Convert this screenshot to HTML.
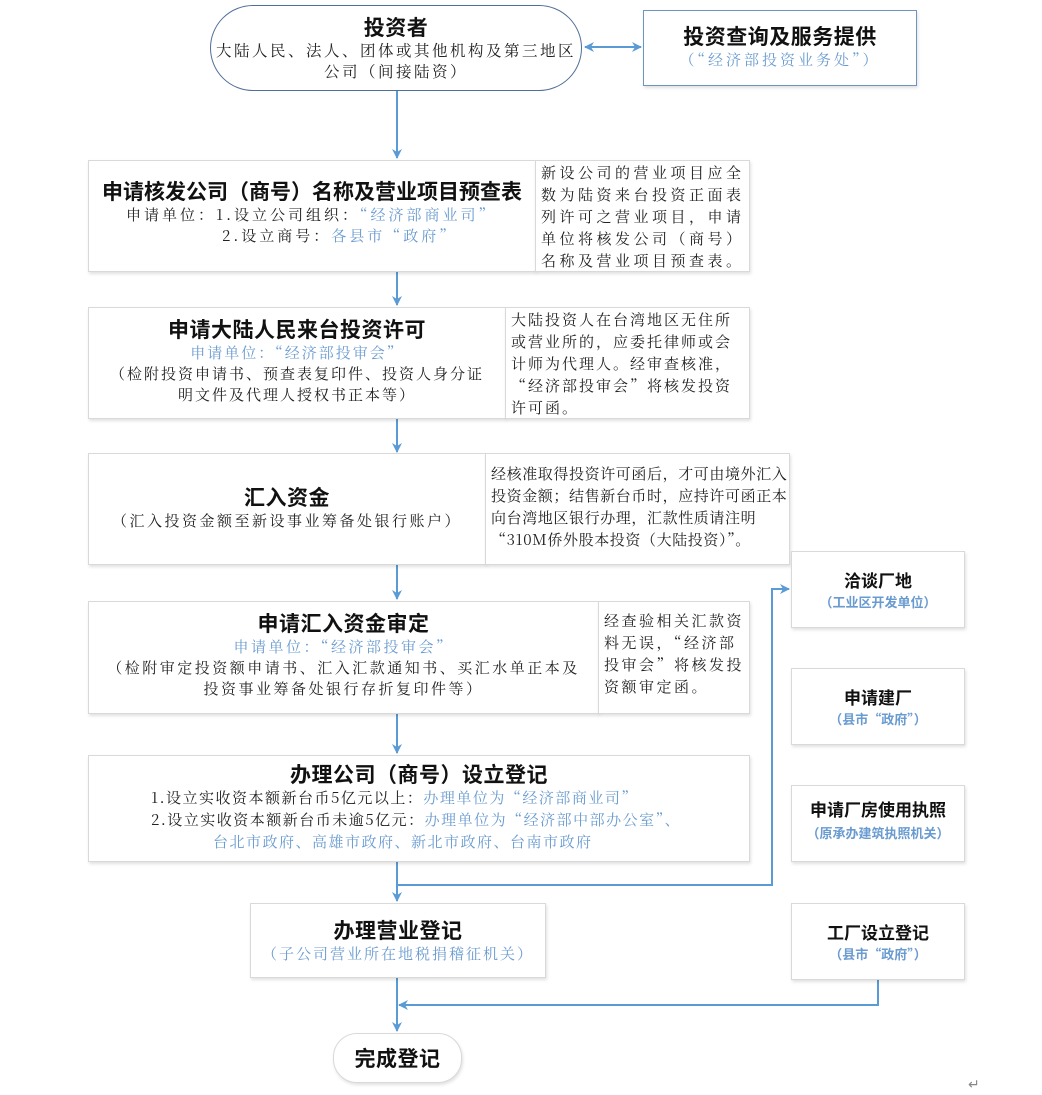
<!DOCTYPE html>
<html><head><meta charset="utf-8"><style>
body{margin:0;background:#fff;width:1042px;height:1095px;position:relative;overflow:hidden;font-family:"Noto Serif CJK SC","Liberation Serif",serif;color:#222}
.b{position:absolute;box-sizing:border-box;border:1px solid #d9d9d9;box-shadow:1px 2px 3px rgba(0,0,0,0.12);background:#fff;text-align:center}
.t{font-family:"Noto Sans CJK SC","Liberation Sans",sans-serif;font-weight:bold;font-size:21px;line-height:26px;color:#111;letter-spacing:0.5px;white-space:nowrap}
.s{font-size:15px;line-height:21px;white-space:nowrap;letter-spacing:3px}
.bl{color:#6a9bd0}
.n{position:absolute;box-sizing:border-box;border:1px solid #d9d9d9;box-shadow:1px 2px 3px rgba(0,0,0,0.12);background:#fff;font-size:15px;line-height:22px;letter-spacing:3.5px;padding:1px 5px;white-space:nowrap}
.r .t{font-size:17px;line-height:22px;letter-spacing:0}
.r .s{font-family:"Noto Sans CJK SC","Liberation Sans",sans-serif;font-weight:bold;font-size:13px;color:#6a9bd0;letter-spacing:0}
svg{position:absolute;left:0;top:0}
</style></head><body>
<svg width="1042" height="1095">
<defs><marker id="a" markerWidth="10" markerHeight="10" refX="9" refY="5" orient="auto" markerUnits="userSpaceOnUse"><path d="M0,0 L10,5 L0,10 L3,5z" fill="#5b9bd5"/></marker>
<marker id="s" markerWidth="10" markerHeight="10" refX="1" refY="5" orient="auto" markerUnits="userSpaceOnUse"><path d="M10,0 L0,5 L10,10 L7,5z" fill="#5b9bd5"/></marker></defs>
<g stroke="#5b9bd5" stroke-width="2" fill="none">
<line x1="585" y1="47" x2="641" y2="47" marker-start="url(#s)" marker-end="url(#a)"/>
<line x1="397" y1="91" x2="397" y2="158" marker-end="url(#a)"/>
<line x1="397" y1="272" x2="397" y2="305" marker-end="url(#a)"/>
<line x1="397" y1="419" x2="397" y2="452" marker-end="url(#a)"/>
<line x1="397" y1="565" x2="397" y2="599" marker-end="url(#a)"/>
<line x1="397" y1="714" x2="397" y2="753" marker-end="url(#a)"/>
<line x1="397" y1="862" x2="397" y2="901" marker-end="url(#a)"/>
<polyline points="397,885 772,885 772,589 789,589" marker-end="url(#a)"/>
<line x1="397" y1="978" x2="397" y2="1031" marker-end="url(#a)"/>
<polyline points="878,980 878,1005 399,1005" marker-end="url(#a)"/>
</g>
</svg>
<div class="b" style="left:210px;top:5px;width:372px;height:86px;border:1.5px solid #4f6f96;border-radius:43px;box-shadow:none;padding-top:8px">
<div class="t">投资者</div><div class="s" style="letter-spacing:2.5px;font-size:15.5px">大陆人民、法人、团体或其他机构及第三地区<br>公司（间接陆资）</div></div>
<div class="b" style="left:643px;top:10px;width:274px;height:76px;border:1.5px solid #6f94bf;padding-top:12px">
<div class="t">投资查询及服务提供</div><div class="s bl">（“经济部投资业务处”）</div></div>

<div class="b" style="left:88px;top:160px;width:448px;height:112px;padding-top:17px">
<div class="t" style="letter-spacing:0">申请核发公司（商号）名称及营业项目预查表</div>
<div class="s" style="text-align:left;padding-left:37px">申请单位：1.设立公司组织：<span class="bl">“经济部商业司”</span><br><span style="padding-left:96px">2.设立商号：<span class="bl">各县市“政府”</span></span></div></div>
<div class="n" style="left:535px;top:160px;width:215px;height:112px">新设公司的营业项目应全<br>数为陆资来台投资正面表<br>列许可之营业项目，申请<br>单位将核发公司（商号）<br>名称及营业项目预查表。</div>

<div class="b" style="left:88px;top:307px;width:418px;height:112px;padding-top:8px">
<div class="t">申请大陆人民来台投资许可</div>
<div class="s" style="letter-spacing:2px"><span class="bl">申请单位：“经济部投审会”</span><br>（检附投资申请书、预查表复印件、投资人身分证<br>明文件及代理人授权书正本等）</div></div>
<div class="n" style="left:505px;top:307px;width:245px;height:112px;letter-spacing:2px">大陆投资人在台湾地区无住所<br>或营业所的，应委托律师或会<br>计师为代理人。经审查核准，<br>“经济部投审会”将核发投资<br>许可函。</div>

<div class="b" style="left:88px;top:453px;width:398px;height:112px;padding-top:30px">
<div class="t">汇入资金</div>
<div class="s" style="letter-spacing:2.5px">（汇入投资金额至新设事业筹备处银行账户）</div></div>
<div class="n" style="left:485px;top:453px;width:305px;height:112px;padding-top:9px;letter-spacing:0.6px">经核准取得投资许可函后，才可由境外汇入<br>投资金额；结售新台币时，应持许可函正本<br>向台湾地区银行办理，汇款性质请注明<br>“310M侨外股本投资（大陆投资）”。</div>

<div class="b" style="left:88px;top:601px;width:511px;height:113px;padding-top:8px">
<div class="t">申请汇入资金审定</div>
<div class="s" style="letter-spacing:2.5px"><span class="bl">申请单位：“经济部投审会”</span><br>（检附审定投资额申请书、汇入汇款通知书、买汇水单正本及<br>投资事业筹备处银行存折复印件等）</div></div>
<div class="n" style="left:598px;top:601px;width:152px;height:113px;padding-top:8px;letter-spacing:2.5px">经查验相关汇款资<br>料无误，“经济部<br>投审会”将核发投<br>资额审定函。</div>

<div class="b" style="left:88px;top:755px;width:662px;height:107px;padding-top:5px">
<div class="t">办理公司（商号）设立登记</div>
<div class="s" style="text-align:left;padding-left:62px;line-height:22px;letter-spacing:1.5px">1.设立实收资本额新台币5亿元以上：<span class="bl">办理单位为“经济部商业司”</span><br>2.设立实收资本额新台币未逾5亿元：<span class="bl">办理单位为“经济部中部办公室”、</span><br><span class="bl" style="padding-left:62px">台北市政府、高雄市政府、新北市政府、台南市政府</span></div></div>

<div class="b" style="left:250px;top:903px;width:296px;height:75px;padding-top:13px">
<div class="t">办理营业登记</div><div class="s bl" style="letter-spacing:2px">（子公司营业所在地税捐稽征机关）</div></div>

<div class="b r" style="left:791px;top:551px;width:174px;height:77px;padding-top:17px"><div class="t">洽谈厂地</div><div class="s">（工业区开发单位）</div></div>
<div class="b r" style="left:791px;top:668px;width:174px;height:77px;padding-top:17px"><div class="t">申请建厂</div><div class="s">（县市“政府”）</div></div>
<div class="b r" style="left:791px;top:785px;width:174px;height:77px;padding-top:12px"><div class="t">申请厂房使用执照</div><div class="s" style="line-height:26px">（原承办建筑执照机关）</div></div>
<div class="b r" style="left:791px;top:903px;width:174px;height:77px;padding-top:17px"><div class="t">工厂设立登记</div><div class="s">（县市“政府”）</div></div>

<div class="b" style="left:333px;top:1033px;width:129px;height:50px;border-radius:24px;padding-top:11px"><div class="t">完成登记</div></div>
<div style="position:absolute;left:968px;top:1074px;font-size:14px;color:#888">↵</div>
</body></html>
